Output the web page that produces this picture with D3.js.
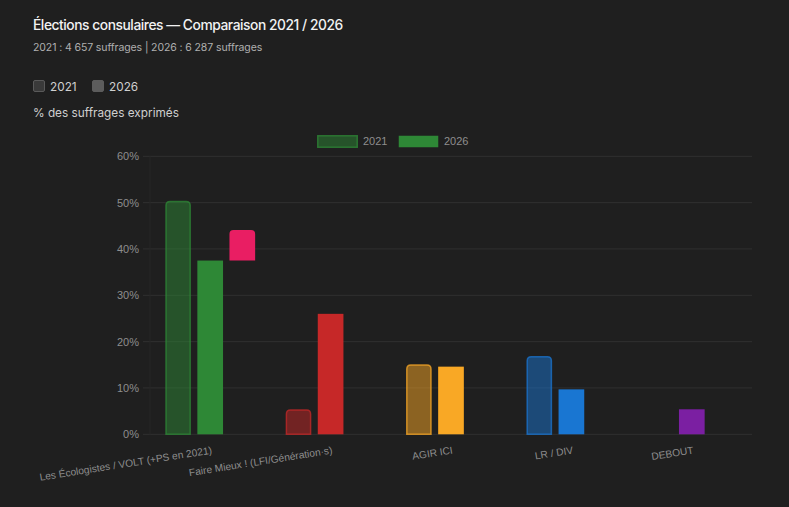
<!DOCTYPE html>
<html>
<head>
<meta charset="utf-8">
<script src="https://cdn.jsdelivr.net/npm/d3@7"></script>
<style>
    html, body { margin: 0; padding: 0; background: #1f1f1f; }
    svg { display: block; }
</style>
</head>
<body>
<svg id="chart" width="789" height="507"></svg>
<script>
// data
const categories = [
    'Les Écologistes / VOLT (+PS en 2021)',
    'Faire Mieux ! (LFI/Génération·s)',
    'AGIR ICI',
    'LR / DIV',
    'DEBOUT'
];
const values2021 = [50.4, 5.4, 15.1, 16.9, null];
const values2026 = [37.5, 26.0, 14.6, 9.7, 5.4];
// floating segment shown in third slot (low, high)
const extraLow = [37.5, null, null, null, null];
const extraHigh = [44.1, null, null, null, null];
const partyColors = ['#2e8836', '#c62828', '#f9a825', '#1976d2', '#7b1fa2'];
const extraColor = '#e91e63';
const yTicks = [0, 10, 20, 30, 40, 50, 60];
const years = ['2021', '2026'];

const svg = d3.select('#chart');
const W = 789, H = 507;
const area = { left: 150, right: 752, top: 156.3, bottom: 434.3 };
const titleFont = 'Inter, "Noto Sans", sans-serif';
const axisFont = '"Liberation Sans", Arial, sans-serif';

svg.append('rect').attr('width', W).attr('height', H).attr('fill', '#1f1f1f');

// header
svg.append('text')
    .attr('x', 33).attr('y', 30)
    .attr('font-family', titleFont).attr('font-size', 13.8).attr('font-weight', 500)
    .attr('letter-spacing', -0.45)
    .attr('fill', '#f2f2f2')
    .text('Élections consulaires — Comparaison 2021 / 2026');

svg.append('text')
    .attr('x', 33).attr('y', 51)
    .attr('font-family', titleFont).attr('font-size', 10.5)
    .attr('letter-spacing', -0.1)
    .attr('fill', '#b0b0b0')
    .text('2021 : 4 657 suffrages | 2026 : 6 287 suffrages');

// html-like toggles
const toggles = svg.append('g');
[{ x: 33, fill: '#3a3a3a', stroke: '#5a5a5a' }, { x: 92, fill: '#5c5c5c', stroke: '#5c5c5c' }]
    .forEach((t, i) => {
        toggles.append('rect')
            .attr('x', t.x + 0.5).attr('y', 80.5).attr('width', 11).attr('height', 11)
            .attr('rx', 1.5)
            .attr('fill', t.fill).attr('stroke', t.stroke);
        toggles.append('text')
            .attr('x', t.x + 17).attr('y', 91)
            .attr('font-family', titleFont).attr('font-size', 11.8)
            .attr('fill', '#d0d0d0')
            .text(years[i]);
    });

svg.append('text')
    .attr('x', 33).attr('y', 117)
    .attr('font-family', titleFont).attr('font-size', 11.8)
    .attr('fill', '#cfcfcf')
    .text('% des suffrages exprimés');

// scales
const x = d3.scaleBand().domain(categories).range([area.left, area.right]);
const bw = x.bandwidth();
const slot = d3.scaleBand().domain(['2021', '2026', 'extra']).range([bw * 0.1, bw * 0.9]);
const barW = slot.bandwidth() * 0.8;
const barX = (cat, key) => x(cat) + slot(key) + (slot.bandwidth() - barW) / 2;

const y = d3.scaleLinear().domain([0, 60]).range([area.bottom, area.top]);

// grid + y axis
const grid = svg.append('g');
grid.selectAll('line')
    .data(yTicks)
    .join('line')
    .attr('x1', area.left - 7).attr('x2', area.right)
    .attr('y1', d => y(d)).attr('y2', d => y(d))
    .attr('stroke', '#303030').attr('stroke-width', 1);

grid.append('line')
    .attr('x1', area.left).attr('x2', area.left)
    .attr('y1', area.top).attr('y2', area.bottom)
    .attr('stroke', '#262626');

const yAxis = d3.axisLeft(y).tickValues(yTicks).tickFormat(d => d + '%').tickSize(0).tickPadding(11);
svg.append('g')
    .attr('transform', `translate(${area.left},0)`)
    .call(yAxis)
    .call(g => g.select('.domain').remove())
    .call(g => g.selectAll('text')
        .attr('font-family', axisFont).attr('font-size', 11).attr('fill', '#8e8e8e'));

// bar with rounded top corners
function topRounded(x0, y0, w, h, r) {
    r = Math.min(r, w / 2, h);
    return `M${x0},${y0 + h}V${y0 + r}Q${x0},${y0} ${x0 + r},${y0}` +
        `H${x0 + w - r}Q${x0 + w},${y0} ${x0 + w},${y0 + r}V${y0 + h}Z`;
}

const bars = svg.append('g');

const rows2021 = categories.map((c, i) => ({ cat: c, v: values2021[i], color: partyColors[i] }))
    .filter(d => d.v != null);
const rows2026 = categories.map((c, i) => ({ cat: c, v: values2026[i], color: partyColors[i] }))
    .filter(d => d.v != null);
const rowsExtra = categories.map((c, i) => ({ cat: c, lo: extraLow[i], hi: extraHigh[i] }))
    .filter(d => d.lo != null);

bars.selectAll('path.bar-2021')
    .data(rows2021)
    .join('path')
    .attr('class', 'bar-2021')
    .attr('d', d => topRounded(barX(d.cat, '2021') + 0.75, y(d.v) + 0.75, barW - 1.5, y(0) - y(d.v) - 0.75, 4))
    .attr('fill', d => d.color).attr('fill-opacity', 0.5)
    .attr('stroke', d => d.color).attr('stroke-opacity', 0.75).attr('stroke-width', 1.5);

bars.selectAll('rect.bar-2026')
    .data(rows2026)
    .join('rect')
    .attr('class', 'bar-2026')
    .attr('x', d => barX(d.cat, '2026'))
    .attr('y', d => y(d.v))
    .attr('width', barW)
    .attr('height', d => y(0) - y(d.v))
    .attr('fill', d => d.color);

bars.selectAll('path.bar-extra')
    .data(rowsExtra)
    .join('path')
    .attr('class', 'bar-extra')
    .attr('d', d => topRounded(barX(d.cat, 'extra'), y(d.hi), barW, y(d.lo) - y(d.hi), 4))
    .attr('fill', extraColor);

// chart legend
const legend = svg.append('g');
const legendItems = [
    { label: '2021', x: 317, faded: true },
    { label: '2026', x: 398, faded: false }
];
legendItems.forEach(it => {
    legend.append('rect')
        .attr('x', it.x + 0.75).attr('y', 135.75).attr('width', 39.5).attr('height', 11.5)
        .attr('fill', partyColors[0]).attr('fill-opacity', it.faded ? 0.5 : 1)
        .attr('stroke', partyColors[0]).attr('stroke-opacity', it.faded ? 0.75 : 0)
        .attr('stroke-width', 1.5);
    legend.append('text')
        .attr('x', it.x + 46).attr('y', 141.5)
        .attr('dy', '0.35em')
        .attr('font-family', axisFont).attr('font-size', 11).attr('fill', '#8e8e8e')
        .text(it.label);
});

// rotated category labels
svg.append('g')
    .selectAll('text')
    .data(categories)
    .join('text')
    .attr('transform', d => `translate(${x(d) + bw / 2 + 1},${area.bottom + 12}) rotate(-9)`)
    .attr('text-anchor', 'end')
    .attr('dy', '0.71em')
    .attr('font-family', axisFont).attr('font-size', 10.2).attr('fill', '#8e8e8e')
    .text(d => d);
</script>
</body>
</html>
